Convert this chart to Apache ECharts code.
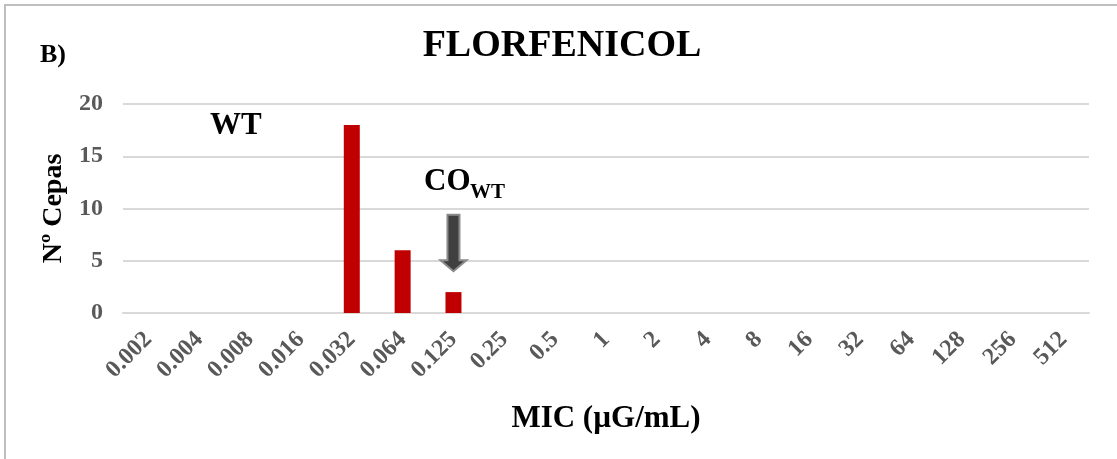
<!DOCTYPE html>
<html>
<head>
<meta charset="utf-8">
<script src="https://cdn.jsdelivr.net/npm/echarts@6/dist/echarts.min.js"></script>
<style>
html,body{margin:0;padding:0;background:#fff;}
#c{width:1117px;height:459px;}
</style>
</head>
<body>
<div id="c"></div>
<script>
const categories = ['0.002','0.004','0.008','0.016','0.032','0.064','0.125','0.25','0.5','1','2','4','8','16','32','64','128','256','512'];
const strainCounts = [0,0,0,0,18,6,2,0,0,0,0,0,0,0,0,0,0,0,0];
const yTicks = [0,5,10,15,20];
const cutoffCategory = '0.125';
const arrowRange = [9.4, 4.0];

const F = '"Liberation Serif","Times New Roman",serif';
const chart = echarts.init(document.getElementById('c'), null, {renderer:'canvas'});

const option = {
  animation:false,
  backgroundColor:'#fff',
  grid:{left:123,right:28,top:104,bottom:146,containLabel:false},
  xAxis:{
    type:'category',
    data:categories,
    axisLine:{show:true,lineStyle:{color:'#d9d9d9',width:2}},
    axisTick:{show:false},
    axisLabel:{rotate:45,interval:0,margin:23,color:'#595959',fontFamily:F,fontWeight:'bold',fontSize:24},
    name:'MIC (µG/mL)',
    nameLocation:'middle',
    nameGap:90,
    nameTextStyle:{color:'#000',fontFamily:F,fontWeight:'bold',fontSize:31}
  },
  yAxis:{
    type:'value',
    min:yTicks[0],max:yTicks[yTicks.length-1],interval:5,
    axisLine:{show:false},axisTick:{show:false},
    splitLine:{lineStyle:{color:'#d9d9d9',width:2}},
    axisLabel:{color:'#595959',fontFamily:F,fontWeight:'bold',fontSize:24,margin:20},
    name:'Nº Cepas',
    nameLocation:'middle',
    nameGap:45,
    nameRotate:90,
    nameTextStyle:{color:'#000',fontFamily:F,fontWeight:'bold',fontSize:28}
  },
  series:[{
    type:'bar',
    data:strainCounts,
    barWidth:16,
    itemStyle:{color:'#c00000'}
  }]
};
chart.setOption(option);

// subscript and arrow positioned from the axes
const pTop = chart.convertToPixel({xAxisIndex:0,yAxisIndex:0},[cutoffCategory,arrowRange[0]]);
const pTip = chart.convertToPixel({xAxisIndex:0,yAxisIndex:0},[cutoffCategory,arrowRange[1]]);
const cx = pTop[0];
const headH = 11;
const pts = [
  [cx-6, pTop[1]],[cx+6, pTop[1]],[cx+6, pTip[1]-headH],[cx+13, pTip[1]-headH],
  [cx, pTip[1]],[cx-13, pTip[1]-headH],[cx-6, pTip[1]-headH]
];
chart.setOption({graphic:[
  {type:'rect',silent:true,shape:{x:5,y:5,width:1130,height:470},style:{fill:'none',stroke:'#bfbfbf',lineWidth:2}},
  {type:'text',style:{x:562,y:46,text:'FLORFENICOL',font:'bold 38px '+F,fill:'#000',align:'center',verticalAlign:'middle'}},
  {type:'text',style:{x:40,y:55,text:'B)',font:'bold 26px '+F,fill:'#000',align:'left',verticalAlign:'middle'}},
  {type:'text',style:{x:210,y:126,text:'WT',font:'bold 31px '+F,fill:'#000',align:'left',verticalAlign:'middle'}},
  {type:'text',style:{x:424,y:182,text:'CO',font:'bold 31px '+F,fill:'#000',align:'left',verticalAlign:'middle'}},
  {type:'text',style:{x:470,y:193,text:'WT',font:'bold 21px '+F,fill:'#000',align:'left',verticalAlign:'middle'}},
  {type:'polygon',shape:{points:pts},style:{fill:'#404040',stroke:'#8c8c8c',lineWidth:2}}
]});
</script>
</body>
</html>
